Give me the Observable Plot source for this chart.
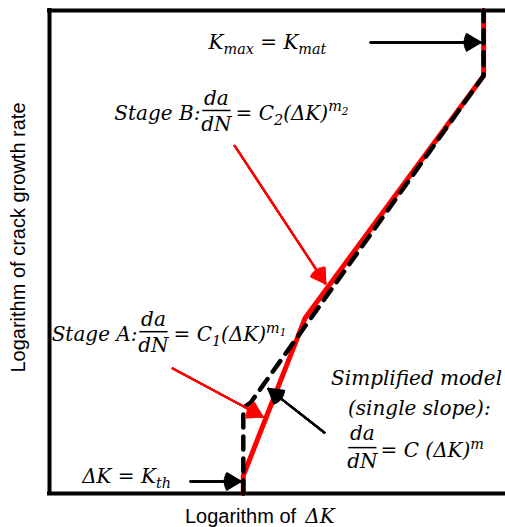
<!DOCTYPE html>
<html><head><meta charset="utf-8">
<script src="https://cdn.jsdelivr.net/npm/d3@7"></script>
<script src="https://cdn.jsdelivr.net/npm/@observablehq/plot@0.6"></script>
<style>
html,body{margin:0;padding:0;background:#fff;}
#chart svg{display:block;}
</style>
</head><body><div id="chart"></div>
<script>
// ---- Data (arbitrary log units) ----
// Two-stage model (red): threshold, Stage A, Stage B, K_max = K_mat
const twoStageLogDK   = [4.25, 4.25, 5.61, 9.52, 9.52];
const twoStageLogRate = [0.00, 0.37, 3.64, 8.65, 10.0];
// Simplified single-slope model (black dashed)
const simpleLogDK   = [4.25, 4.25, 4.29, 4.41, 9.52, 9.52];
const simpleLogRate = [0.00, 1.68, 1.80, 1.88, 8.65, 10.0];

// Callout arrows
const arrowColor = ["black", "red", "red", "black", "black"];
const arrowX1 = [7.04, 4.06, 2.70, 6.03, 3.09];
const arrowY1 = [9.34, 7.20, 2.59, 1.26, 0.25];
const arrowX2 = [9.45, 6.05, 4.67, 4.80, 4.19];
const arrowY2 = [9.34, 4.35, 1.59, 2.17, 0.25];

// Labels (math markup: _{} subscript, ^{} superscript)
const mathText   = ["K_{max} = K_{mat}", "Stage B:", "= C_{2}(ΔK)^{m_{2}}", "Stage A:", "= C_{1}(ΔK)^{m_{1}}",
                    "Simplified model", "(single slope):", "= C (ΔK)^{m}", "ΔK = K_{th}"];
const mathX      = [4.78, 3.31, 4.08, 1.93, 2.72, 8.05, 8.11, 7.26, 1.69];
const mathY      = [9.34, 7.87, 7.87, 3.29, 3.29, 2.38, 1.76, 0.89, 0.35];
const mathAnchor = ["middle", "end", "start", "end", "start", "middle", "middle", "start", "middle"];

// Fractions da/dN
const fracX    = [3.66, 2.28, 6.86];
const fracNumY = [8.18, 3.60, 1.24];
const fracBarY = [7.93, 3.35, 0.95];
const fracDenY = [7.64, 3.06, 0.66];
const fracHalf = 0.31;

// Axis titles
const xTitle = "Logarithm of ";
const xTitleMath = "ΔK";
const yTitle = "Logarithm of crack growth rate";

// ---- Build tables ----
const twoStage = twoStageLogDK.map((x, i) => ({x, y: twoStageLogRate[i]}));
const simple = simpleLogDK.map((x, i) => ({x, y: simpleLogRate[i]}));
const arrows = arrowX1.map((x1, i) => ({x1, y1: arrowY1[i], x2: arrowX2[i], y2: arrowY2[i], c: arrowColor[i]}));
const labels = mathText.map((t, i) => ({t, x: mathX[i], y: mathY[i], a: mathAnchor[i]}));
const fracs = fracX.map((x, i) => ({x, ny: fracNumY[i], by: fracBarY[i], dy: fracDenY[i]}));
const fracText = fracs.flatMap(f => [{t: "da", x: f.x, y: f.ny}, {t: "dN", x: f.x, y: f.dy}]);

const MATH = "DejaVu Serif, Liberation Serif, serif";
const SANS = "Liberation Sans, Arial, sans-serif";

// arrow heads filled by fanning several open heads
const headAngles = [62, 50, 38, 26, 14];
const arrowMarks = headAngles.flatMap(ang => ["black", "red"].map(c =>
  Plot.arrow(arrows.filter(d => d.c === c), {x1: "x1", y1: "y1", x2: "x2", y2: "y2",
    stroke: c === "red" ? "#ff0000" : "black", strokeWidth: 2, headLength: 12, headAngle: ang})));

const chart = Plot.plot({
  width: 505, height: 527,
  marginLeft: 49, marginRight: 0, marginTop: 10, marginBottom: 34,
  x: {domain: [0, 10], axis: null},
  y: {domain: [0, 10], axis: null},
  style: {background: "white", overflow: "visible"},
  marks: [
    Plot.ruleX([0], {stroke: "black", strokeWidth: 4, strokeLinecap: "square"}),
    Plot.ruleY([0, 10], {stroke: "black", strokeWidth: 4, strokeLinecap: "square"}),
    Plot.line(twoStage, {x: "x", y: "y", stroke: "#ff0000", strokeWidth: 5, strokeLinejoin: "miter"}),
    Plot.line(simple, {x: "x", y: "y", stroke: "black", strokeWidth: 4.5, strokeDasharray: "13,9"}),
    ...arrowMarks,
    Plot.link(fracs, {x1: d => d.x - fracHalf, x2: d => d.x + fracHalf, y1: "by", y2: "by", stroke: "black", strokeWidth: 1.5}),
    Plot.text(fracText, {x: "x", y: "y", text: "t", fontSize: 20, fontFamily: MATH, fontStyle: "italic", fill: "black"}),
    ...["start", "middle", "end"].map(a =>
      Plot.text(labels.filter(d => d.a === a), {x: "x", y: "y", text: "t", textAnchor: a, fontSize: 20,
        fontFamily: MATH, fontStyle: "italic", fill: "black"})),
    Plot.text([xTitle], {x: 5.53, y: -0.48, text: d => d, textAnchor: "end", fontSize: 20, fontFamily: SANS, fill: "black"}),
    Plot.text([xTitleMath], {x: 5.61, y: -0.48, text: d => d, textAnchor: "start", fontSize: 20, fontFamily: MATH, fontStyle: "italic", fill: "black"}),
    Plot.text([yTitle], {x: -0.68, y: 5.30, text: d => d, rotate: -90, textAnchor: "middle", fontSize: 20, fontFamily: SANS, fill: "black"})
  ]
});

// ---- math markup -> tspans ----
function parseMath(s, shift = 0, scale = 1, out = []) {
  let i = 0, buf = "";
  const flush = () => { if (buf) { out.push({t: buf, shift, scale}); buf = ""; } };
  while (i < s.length) {
    const c = s[i];
    if ((c === "_" || c === "^") && s[i + 1] === "{") {
      flush();
      let depth = 1, j = i + 2;
      while (j < s.length && depth) { if (s[j] === "{") depth++; else if (s[j] === "}") depth--; j++; }
      const inner = s.slice(i + 2, j - 1);
      parseMath(inner, shift + (c === "_" ? 0.25 : -0.42) * scale, scale * 0.72, out);
      i = j;
    } else { buf += c; i++; }
  }
  flush();
  return out;
}
d3.select(chart).selectAll("text").each(function() {
  const s = this.textContent;
  if (!/[_^]\{/.test(s)) return;
  let fs = 20, node = this;
  while (node && node.getAttribute) {
    const a = node.getAttribute("font-size");
    if (a) { fs = parseFloat(a); break; }
    node = node.parentNode;
  }
  const el = d3.select(this);
  el.selectAll("*").remove();
  el.text(null);
  let prev = 0;
  parseMath(s).forEach(seg => {
    const t = el.append("tspan").text(seg.t).attr("font-size", fs * seg.scale);
    const d = (seg.shift - prev) * fs;
    if (Math.abs(d) > 1e-6) t.attr("dy", d);
    prev = seg.shift;
  });
});

document.getElementById("chart").appendChild(chart);
</script>
</body></html>
